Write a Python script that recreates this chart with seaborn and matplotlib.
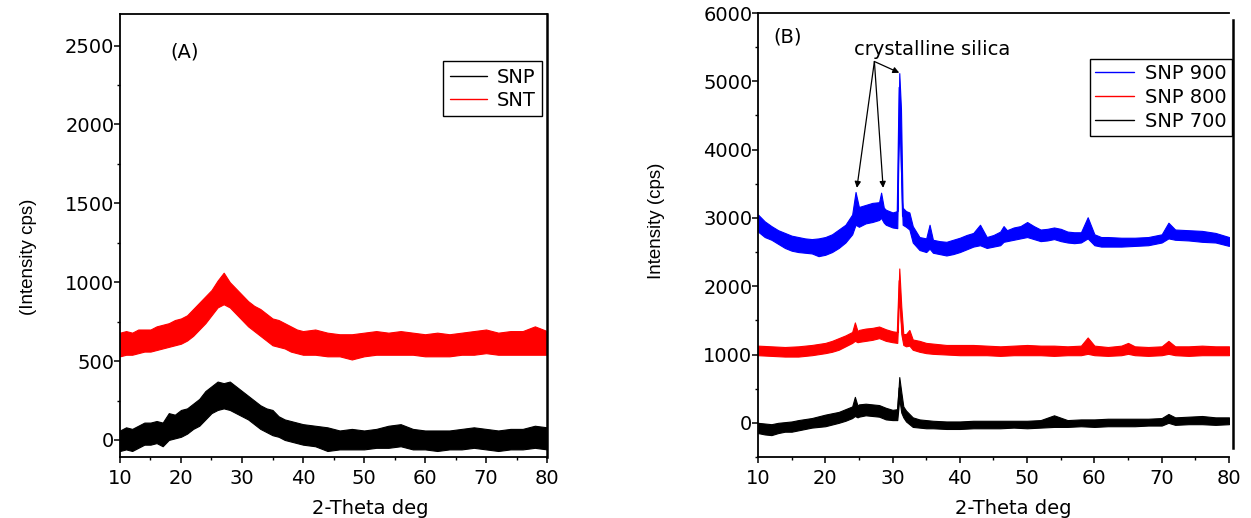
import numpy as np
import pandas as pd
import matplotlib
matplotlib.use("Agg")
import matplotlib.pyplot as plt
from matplotlib.ticker import MultipleLocator
import seaborn as sns

# ---------------- Data (lower / upper noise envelope) -------------
# Panel A
a_snp_x = [10, 11, 12, 13, 14, 15, 16, 17, 18, 19, 20, 21, 22, 23, 24, 25, 26, 27, 28, 29,
           30, 31, 32, 33, 34, 35, 36, 37, 38, 39, 40, 42, 44, 46, 48, 50, 52, 54, 56, 58,
           60, 62, 64, 66, 68, 70, 72, 74, 76, 78, 80]
a_snp_hi = [60, 80, 70, 90, 110, 110, 120, 110, 170, 160, 190, 200, 230, 260, 310, 340, 370, 360, 370, 340,
            310, 280, 250, 220, 200, 190, 150, 130, 120, 110, 100, 90, 80, 60, 70, 60, 70, 90, 100, 70,
            60, 60, 60, 70, 80, 70, 60, 70, 70, 90, 80]
a_snp_lo = [-70, -60, -70, -50, -30, -30, -20, -40, 0, 10, 20, 40, 70, 90, 130, 170, 190, 200, 190, 170,
            150, 130, 100, 70, 50, 30, 20, 0, -10, -20, -30, -40, -70, -60, -60, -60, -50, -50, -40, -60,
            -60, -70, -60, -60, -50, -60, -70, -60, -60, -50, -60]

a_snt_x = a_snp_x
a_snt_hi = [680, 690, 680, 700, 700, 700, 720, 730, 740, 760, 770, 790, 830, 870, 910, 950, 1010, 1060, 1000, 960,
            920, 880, 850, 830, 800, 770, 760, 740, 720, 700, 690, 700, 680, 670, 670, 680, 690, 680, 690, 680,
            670, 680, 670, 680, 690, 700, 680, 690, 690, 720, 690]
a_snt_lo = [530, 540, 540, 550, 560, 560, 570, 580, 590, 600, 610, 630, 660, 700, 740, 790, 840, 860, 840, 800,
            760, 720, 690, 660, 630, 600, 590, 580, 560, 550, 540, 540, 530, 530, 510, 530, 540, 540, 540, 540,
            530, 530, 530, 540, 540, 550, 540, 540, 540, 540, 540]

# Panel B
b_900_x = [10, 11, 12, 13, 14, 15, 16, 17, 18, 19, 20, 21, 22, 23, 24, 24.5, 25, 26, 27, 28,
           28.3, 28.7, 29, 30, 30.7, 31.0, 31.25, 31.5, 32, 32.5, 33, 34, 35, 35.5, 36, 37, 38, 39,
           40, 41, 42, 43, 44, 45, 46, 46.5, 47, 48, 49, 50, 51, 52, 53, 54, 55, 56, 57, 58,
           59, 60, 61, 62, 64, 66, 68, 70, 71, 72, 74, 76, 78, 80]
b_900_hi = [3050, 2950, 2880, 2820, 2780, 2740, 2720, 2700, 2690, 2700, 2720, 2760, 2830, 2900, 3050, 3380, 3160, 3190, 3220, 3230,
            3370, 3150, 3120, 3080, 3100, 5120, 4600, 3150, 3100, 3080, 2880, 2720, 2700, 2900, 2680, 2660, 2650, 2680,
            2710, 2750, 2780, 2900, 2720, 2750, 2800, 2880, 2820, 2860, 2880, 2940, 2880, 2830, 2840, 2860, 2840, 2800, 2790, 2790,
            3010, 2760, 2720, 2720, 2710, 2710, 2720, 2760, 2930, 2830, 2820, 2810, 2780, 2720]
b_900_lo = [2800, 2720, 2680, 2620, 2560, 2520, 2500, 2490, 2480, 2440, 2460, 2500, 2560, 2640, 2760, 2900, 2870, 2920, 2940, 2970,
            3000, 2930, 2900, 2860, 2850, 4700, 3700, 2900, 2870, 2830, 2640, 2530, 2500, 2550, 2490, 2470, 2450, 2470,
            2500, 2540, 2580, 2600, 2560, 2580, 2600, 2650, 2660, 2680, 2700, 2720, 2690, 2660, 2670, 2690, 2660, 2640, 2630, 2640,
            2700, 2600, 2580, 2580, 2580, 2590, 2600, 2640, 2700, 2680, 2670, 2650, 2640, 2590]

b_800_x = [10, 12, 14, 16, 18, 20, 21, 22, 23, 24, 24.4, 24.8, 25, 26, 27, 28, 29, 30, 30.7, 31.0,
           31.3, 31.6, 32, 32.5, 33, 34, 35, 36, 38, 40, 42, 44, 46, 48, 50, 52, 54, 56, 58, 59,
           60, 62, 64, 65, 66, 68, 70, 71, 72, 74, 76, 78, 80]
b_800_hi = [1130, 1120, 1110, 1120, 1140, 1170, 1200, 1240, 1280, 1330, 1470, 1340, 1360, 1380, 1390, 1410, 1370, 1340, 1330, 2260,
            1700, 1300, 1300, 1360, 1220, 1200, 1170, 1160, 1140, 1140, 1140, 1130, 1120, 1130, 1140, 1130, 1130, 1120, 1130, 1250,
            1130, 1110, 1130, 1170, 1120, 1110, 1120, 1200, 1120, 1120, 1130, 1120, 1120]
b_800_lo = [990, 980, 970, 970, 990, 1020, 1040, 1070, 1120, 1170, 1200, 1180, 1185, 1200, 1215, 1240, 1200, 1180, 1170, 1900,
            1300, 1140, 1120, 1130, 1070, 1040, 1020, 1010, 1000, 990, 990, 990, 980, 990, 990, 990, 980, 990, 990, 1010,
            990, 980, 990, 1010, 990, 980, 990, 1010, 990, 980, 990, 990, 990]

b_700_x = [10, 11, 12, 13, 14, 15, 16, 18, 20, 22, 23, 24, 24.4, 24.8, 25, 26, 27, 28, 29, 30,
           30.7, 31.0, 31.3, 31.6, 32, 33, 34, 35, 36, 38, 40, 42, 44, 46, 48, 50, 52, 54, 56, 58,
           60, 62, 64, 66, 68, 70, 71, 72, 74, 76, 78, 80]
b_700_hi = [0, -10, -20, 0, 10, 20, 40, 70, 120, 160, 200, 240, 380, 250, 270, 280, 270, 260, 220, 190,
            200, 670, 450, 240, 180, 80, 50, 40, 30, 20, 20, 30, 30, 30, 30, 30, 40, 110, 40, 50,
            50, 60, 60, 60, 60, 70, 130, 80, 90, 100, 80, 80]
b_700_lo = [-150, -170, -180, -150, -130, -130, -110, -70, -50, 0, 30, 70, 100, 80, 90, 110, 100, 90, 50, 40,
            40, 350, 150, 80, 20, -60, -70, -80, -80, -90, -90, -80, -80, -80, -70, -80, -70, -60, -60, -50,
            -60, -50, -50, -50, -40, -40, 0, -30, -20, -20, -30, -20]

a_series = [("SNP", a_snp_x, a_snp_lo, a_snp_hi, "#000000"),
            ("SNT", a_snt_x, a_snt_lo, a_snt_hi, "#ff0000")]
b_series = [("SNP 900", b_900_x, b_900_lo, b_900_hi, "#0000ff"),
            ("SNP 800", b_800_x, b_800_lo, b_800_hi, "#ff0000"),
            ("SNP 700", b_700_x, b_700_lo, b_700_hi, "#000000")]

x_label = "2-Theta deg"
ylabel_a = "(Intensity cps)"
ylabel_b = "Intensity (cps)"
annot_text = "crystalline silica"

# ---------------- Plot ----------------
sns.set_style("ticks")
plt.rcParams["font.family"] = ["DejaVu Sans"]
plt.rcParams.update({"text.color": "black", "axes.labelcolor": "black",
                     "xtick.color": "black", "ytick.color": "black",
                     "xtick.labelcolor": "black", "ytick.labelcolor": "black"})

fig = plt.figure(figsize=(12.51, 5.18), dpi=100)
axA = fig.add_axes([0.0959, 0.1178, 0.3414, 0.8552])
axB = fig.add_axes([0.6059, 0.1178, 0.3765, 0.8571])


def draw(ax, series):
    for name, xs, lo, hi, col in series:
        df = pd.DataFrame({"x": list(xs) + list(xs), "y": list(lo) + list(hi)})
        sns.lineplot(data=df, x="x", y="y", ax=ax, color=col, lw=1.0, label=name,
                     estimator="mean", errorbar=("pi", 100),
                     err_kws={"alpha": 1.0, "linewidth": 0.8, "edgecolor": col})


draw(axA, a_series)
draw(axB, b_series)

FS = 14
for ax in (axA, axB):
    ax.set_xlim(10, 80)
    ax.xaxis.set_major_locator(MultipleLocator(10))
    ax.xaxis.set_minor_locator(MultipleLocator(5))
    for s in ax.spines.values():
        s.set_linewidth(1.3)
        s.set_color("black")
    ax.tick_params(axis="both", which="major", direction="out", length=4, width=1.1,
                   labelsize=FS, color="black", labelcolor="black")
    ax.tick_params(axis="both", which="minor", direction="out", length=2.5, width=1.0, color="black")
    ax.tick_params(axis="y", which="major", pad=0)
    ax.tick_params(axis="x", which="major", pad=5)
    ax.set_xlabel(x_label, fontsize=FS, color="black")

axA.set_ylim(-108, 2700)
axA.yaxis.set_major_locator(MultipleLocator(500))
axA.yaxis.set_minor_locator(MultipleLocator(250))
axA.spines["right"].set_linewidth(1.8)
axA.set_ylabel(ylabel_a, fontsize=13.5, family=["Liberation Sans"], color="black")
axA.xaxis.set_label_coords(0.585, -0.095)
axA.yaxis.set_label_coords(-0.194, 0.451)
axA.text(0.152, 0.914, "(A)", transform=axA.transAxes, fontsize=FS, ha="center", va="center")

axB.set_ylim(-500, 6000)
axB.yaxis.set_major_locator(MultipleLocator(1000))
axB.yaxis.set_minor_locator(MultipleLocator(500))
axB.spines["right"].set_position(("outward", 3))
axB.spines["right"].set_bounds(-370, 5900)
axB.spines["right"].set_linewidth(1.8)
axB.set_ylabel(ylabel_b, fontsize=13.5, family=["Liberation Sans"], color="black")
axB.xaxis.set_label_coords(0.543, -0.095)
axB.yaxis.set_label_coords(-0.197, 0.532)
axB.text(0.064, 0.946, "(B)", transform=axB.transAxes, fontsize=FS, ha="center", va="center")

# annotation arrows
axB.text(35.85, 5460, annot_text, fontsize=FS, ha="center", va="center")
for tx, ty in [(24.7, 3440), (28.6, 3440), (31.0, 5125)]:
    axB.annotate("", xy=(tx, ty), xytext=(27.3, 5290),
                 arrowprops=dict(arrowstyle="-|>", color="black", lw=0.9,
                                 mutation_scale=9, shrinkA=0, shrinkB=0))

legA = axA.legend(loc="upper right", bbox_to_anchor=(0.988, 0.894), fontsize=FS,
                  frameon=True, fancybox=False, edgecolor="black", framealpha=1,
                  handlelength=1.9, handletextpad=0.5, borderpad=0.35, labelspacing=0.2,
                  borderaxespad=0)
legA.get_frame().set_linewidth(1.0)
legB = axB.legend(loc="upper right", bbox_to_anchor=(1.006, 0.896), fontsize=FS,
                  frameon=True, fancybox=False, edgecolor="black", framealpha=1,
                  handlelength=2.0, handletextpad=0.6, borderpad=0.25, labelspacing=0.25,
                  borderaxespad=0)
legB.get_frame().set_linewidth(1.0)
for leg in (legA, legB):
    for h in leg.get_lines():
        h.set_linewidth(1.0)
    for t in leg.get_texts():
        t.set_color("black")

fig.savefig("out.png", dpi=100)
